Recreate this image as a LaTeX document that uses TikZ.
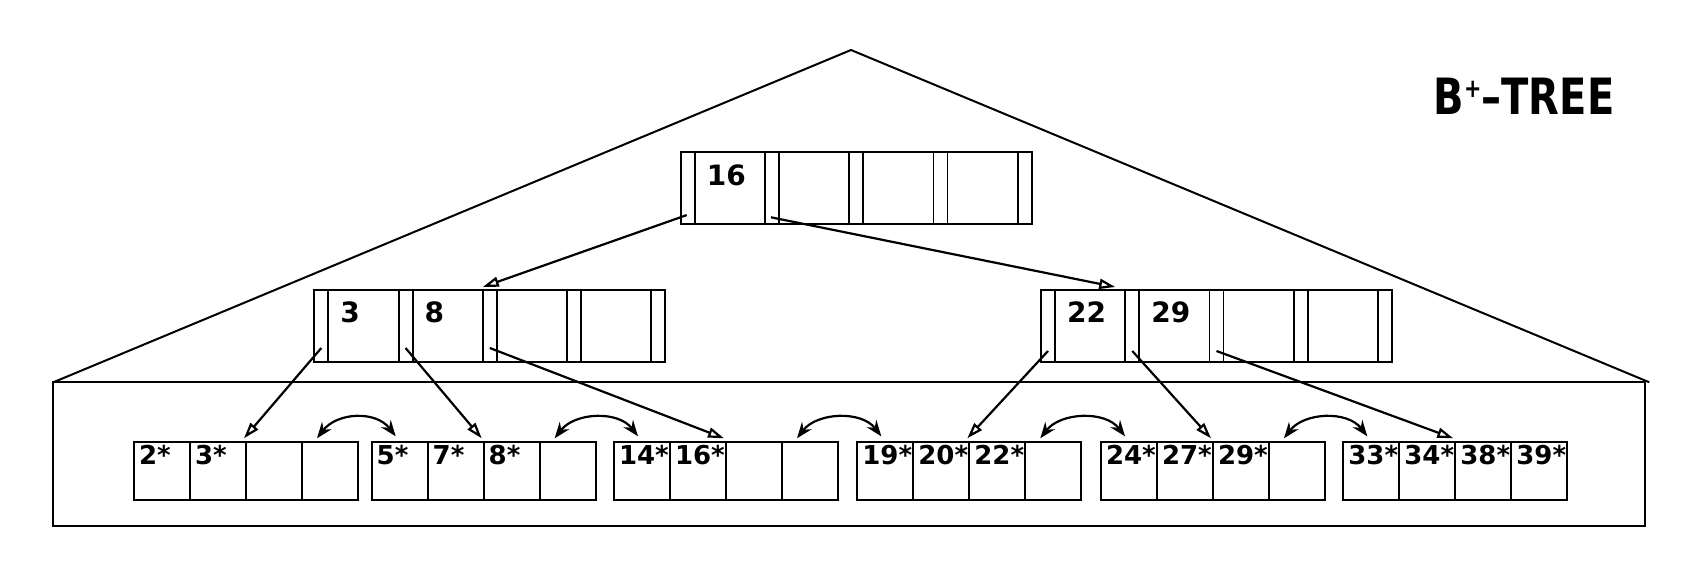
\documentclass[tikz,border=0pt]{standalone}
\usepackage{fontspec}
\setmainfont{DejaVu Sans}
\usetikzlibrary{positioning,arrows.meta}
\tikzset{
  ptr/.style={rectangle,draw,line width=0.95pt,minimum width=7pt,minimum height=36pt,inner sep=0pt,outer sep=0pt},
  key/.style={ptr,minimum width=35.125pt,text width=23pt,inner xsep=6pt,align=left,text height=16.5pt,text depth=19.5pt,font=\fontsize{14}{14}\selectfont\bfseries},
  cell/.style={rectangle,draw,line width=0.95pt,minimum width=28pt,minimum height=29pt,inner xsep=2.5pt,inner ysep=0pt,outer sep=0pt,text width=23pt,align=left,text height=11.3pt,text depth=17.7pt,font=\fontsize{13}{13}\selectfont\bfseries},
  down/.style={-{Triangle[open,length=8pt,width=5pt]},line width=1.1pt},
  sib/.style={{Stealth[length=8pt,width=6pt]}-{Stealth[length=8pt,width=6pt]},line width=1.1pt},
  frame/.style={line width=1pt},
}
\begin{document}
\begin{tikzpicture}[x=0.5pt,y=-0.5pt]
  \useasboundingbox (0,0) rectangle (1690,576);
  % outline of the tree
  \coordinate (apex) at (851,50); \coordinate (bl) at (53.3,382.3);
  \coordinate (br) at (1649.3,382.3);
  \draw[frame] (bl) -- (apex) -- (br);
  \draw[frame] (bl) rectangle (1645,525.7);
  \node[font=\fontsize{25}{25}\selectfont\bfseries] (title) at (1524,96.5)
    {\scalebox{0.8}[1]{B\raisebox{0.35em}{\fontsize{13}{13}\selectfont+}--TREE}};
  % root
  \node[ptr,anchor=north west] (r-p0) at (680.7,152.3) {};
  \foreach \k [count=\i, remember=\i as \j (initially 0)] in {16,{},{},{}}
    {\node[key,right=0pt of r-p\j] (r-k\i) {\k}; \node[ptr,right=0pt of r-k\i] (r-p\i) {};}
  % index level
  \node[ptr,anchor=north west] (a-p0) at (314.3,290) {};
  \foreach \k [count=\i, remember=\i as \j (initially 0)] in {3,8,{},{}}
    {\node[key,right=0pt of a-p\j] (a-k\i) {\k}; \node[ptr,right=0pt of a-k\i] (a-p\i) {};}
  \node[ptr,anchor=north west] (b-p0) at (1041,290) {};
  \foreach \k [count=\i, remember=\i as \j (initially 0)] in {22,29,{},{}}
    {\node[key,right=0pt of b-p\j] (b-k\i) {\k}; \node[ptr,right=0pt of b-k\i] (b-p\i) {};}
  % leaves
  \foreach \n/\x/\ks in {1/134/{2*,3*,{},{}},2/371.7/{5*,7*,8*,{}},3/614/{14*,16*,{},{}},
      4/857.3/{19*,20*,22*,{}},5/1101/{24*,27*,29*,{}},6/1343.3/{33*,34*,38*,39*}}
    {\foreach \k [count=\i] in \ks
      {\node[cell,anchor=north west] (l\n-\i) at ({\x+56*(\i-1)},442.3) {\k};}}
  % child pointers
  \draw[down] ([shift={(-0.5pt,4.6pt)}]r-p0.south) -- ([yshift=1.5pt]a-p2.north west);
  \draw[down] ([shift={(-0.5pt,3.5pt)}]r-p1.south) -- ([shift={(-5pt,1.5pt)}]b-k1.north east);
  \foreach \s/\t in {0/1,1/2,2/3}
    {\draw[down] ([yshift=7pt]a-p\s.south) -- ([shift={(-1pt,2pt)}]l\t-2.north east);}
  \foreach \s/\t in {0/4,1/5,2/6}
    {\draw[down] ([yshift=5.5pt]b-p\s.south) -- ([shift={(-1pt,2pt)}]l\t-2.north east);}
  % sibling links
  \foreach \s/\t in {1/2,2/3,3/4,4/5,5/6}
    {\draw[sib] ([shift={(-6.5pt,2pt)}]l\s-4.north) .. controls +(20,-26) and +(-20,-26) .. ([shift={(-2pt,3pt)}]l\t-1.north);}
\end{tikzpicture}
\end{document}
